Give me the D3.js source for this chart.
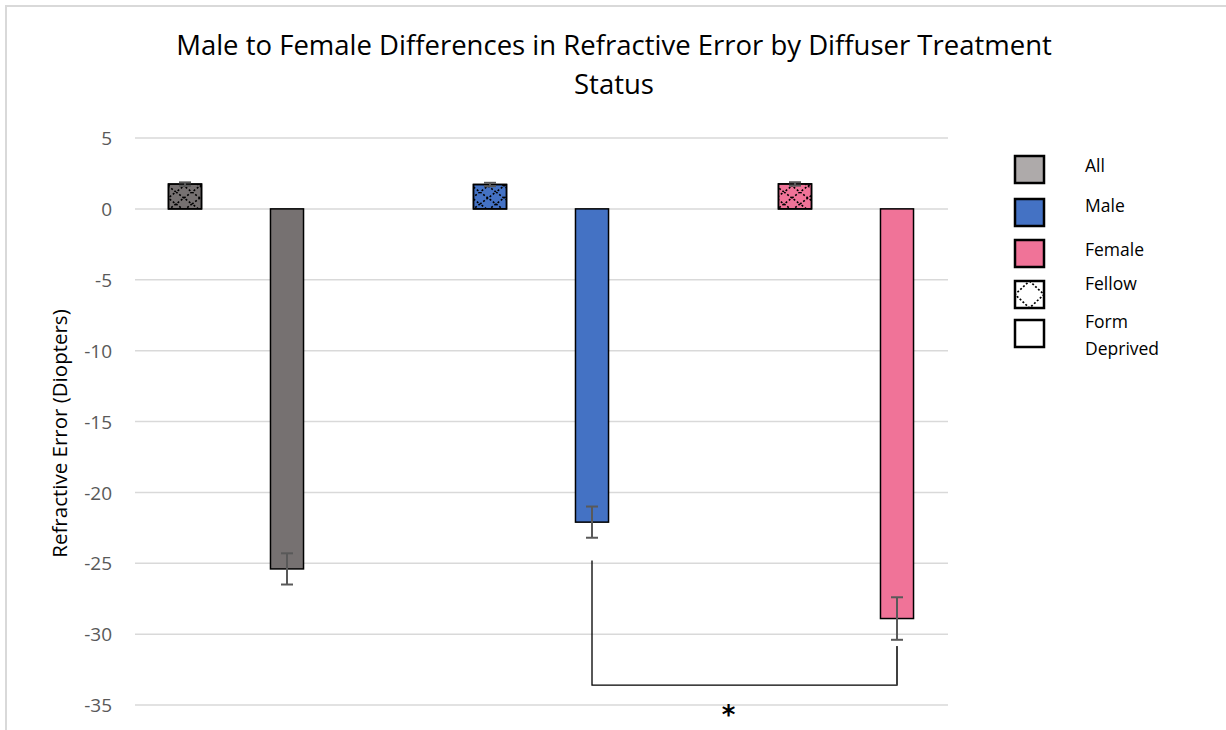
<!DOCTYPE html>
<html><head><meta charset="utf-8">
<script src="https://cdn.jsdelivr.net/npm/d3@7"></script>
<style>body{margin:0;background:#fff}svg{display:block}</style>
</head><body>
<svg id="c" width="1226" height="730"></svg>
<script>
const groups = ["All", "Male", "Female"];
const treatments = ["Fellow", "Form Deprived"];
const fellowMeans = [1.75, 1.72, 1.76];
const fellowErr = [0.12, 0.12, 0.12];
const fdMeans = [-25.4, -22.1, -28.9];
const fdErr = [1.1, 1.1, 1.5];
const yTicks = [5, 0, -5, -10, -15, -20, -25, -30, -35];
const legendLabels = [["All"], ["Male"], ["Female"], ["Fellow"], ["Form", "Deprived"]];
const sigBracket = { from: "Male", to: "Female", leftStart: -24.8, rightStart: -30.85, level: -33.6, label: "*" };

const colors = { All: "#767171", Male: "#4472c4", Female: "#f07398" };
const legendColors = ["#aeaaaa", "#4472c4", "#f07398", "url(#legPat)", "#ffffff"];
const font = "'Open Sans', sans-serif";

const svg = d3.select("#c");
const defs = svg.append("defs");
const pat = defs.append("pattern").attr("id", "diam").attr("patternUnits", "userSpaceOnUse")
  .attr("width", 32).attr("height", 24).attr("x", 0).attr("y", 0);
pat.append("path").attr("d", "M0,0 L32,24 M32,0 L0,24 M16,0 L32,12 L16,24 L0,12 Z")
  .attr("fill", "none").attr("stroke", "#000").attr("stroke-width", 1.6).attr("stroke-dasharray", "2,2");
const legPat = defs.append("pattern").attr("id", "legPat").attr("patternUnits", "objectBoundingBox")
  .attr("patternContentUnits", "objectBoundingBox").attr("width", 1).attr("height", 1);
legPat.append("rect").attr("width", 1).attr("height", 1).attr("fill", "#fff");
legPat.append("path").attr("d", "M0.5,0 L1,0.5 L0.5,1 L0,0.5 Z").attr("fill", "none")
  .attr("stroke", "#000").attr("stroke-width", 0.06).attr("stroke-dasharray", "0.07,0.07");

svg.append("path").attr("d", "M6,730 L6,6 L1226,6").attr("fill", "none").attr("stroke", "#d9d9d9").attr("stroke-width", 2);

const y = d3.scaleLinear().domain([-35, 5]).range([705, 138]);
const x = d3.scaleBand().domain(groups).range([83.5, 998.5]).padding(0);
const xi = d3.scaleBand().domain(treatments).range([0, x.bandwidth()]).paddingInner(0.676).paddingOuter(0.833);

svg.append("g").selectAll("line").data(yTicks).join("line")
  .attr("x1", 135).attr("x2", 948).attr("y1", d => y(d)).attr("y2", d => y(d))
  .attr("stroke", "#d9d9d9").attr("stroke-width", 1.5);

const yAxis = d3.axisLeft(y).tickValues(yTicks).tickSize(0).tickPadding(0).tickFormat(d => String(d));
const ga = svg.append("g").attr("transform", "translate(112,0)").call(yAxis);
ga.select(".domain").remove();
ga.selectAll("text").attr("font-family", font).attr("font-size", 19).attr("fill", "#595959").attr("dy", "0.35em");

svg.append("text").attr("transform", `translate(67,${(y(5)+y(-35))/2 + 12}) rotate(-90)`)
  .attr("text-anchor", "middle").attr("font-family", font).attr("font-size", 20.5).attr("fill", "#000")
  .text("Refractive Error (Diopters)");

const title = svg.append("text").attr("text-anchor", "middle").attr("font-family", font).attr("font-size", 27.5).attr("fill", "#000");
title.append("tspan").attr("x", 614).attr("y", 55).text("Male to Female Differences in Refractive Error by Diffuser Treatment");
title.append("tspan").attr("x", 614).attr("y", 94).text("Status");

const rows = [];
groups.forEach((g, i) => {
  rows.push({ g, t: "Fellow", v: fellowMeans[i], e: fellowErr[i] });
  rows.push({ g, t: "Form Deprived", v: fdMeans[i], e: fdErr[i] });
});
const bx = d => x(d.g) + xi(d.t);
const bars = svg.append("g");
bars.selectAll("rect.base").data(rows).join("rect")
  .attr("x", bx).attr("width", xi.bandwidth())
  .attr("y", d => y(Math.max(0, d.v))).attr("height", d => Math.abs(y(d.v) - y(0)))
  .attr("fill", d => colors[d.g]).attr("stroke", "#000").attr("stroke-width", 1.5);
bars.selectAll("rect.pat").data(rows.filter(d => d.t === "Fellow")).join("rect")
  .attr("x", bx).attr("width", xi.bandwidth())
  .attr("y", d => y(Math.max(0, d.v))).attr("height", d => Math.abs(y(d.v) - y(0)))
  .attr("fill", "url(#diam)").attr("stroke", "#000").attr("stroke-width", 1.5);

const eb = svg.append("g").attr("stroke", "#595959").attr("stroke-width", 2);
rows.forEach(d => {
  const cx = bx(d) + xi.bandwidth() / 2;
  eb.append("line").attr("x1", cx).attr("x2", cx).attr("y1", y(d.v + d.e)).attr("y2", y(d.v - d.e));
  [d.v + d.e, d.v - d.e].forEach(v => eb.append("line").attr("x1", cx - 6).attr("x2", cx + 6).attr("y1", y(v)).attr("y2", y(v)));
});

const lx = x(sigBracket.from) + xi("Form Deprived") + xi.bandwidth() / 2;
const rx = x(sigBracket.to) + xi("Form Deprived") + xi.bandwidth() / 2;
svg.append("path")
  .attr("d", `M${lx},${y(sigBracket.leftStart)} L${lx},${y(sigBracket.level)} L${rx},${y(sigBracket.level)} L${rx},${y(sigBracket.rightStart)}`)
  .attr("fill", "none").attr("stroke", "#000").attr("stroke-width", 1.3);
svg.append("path")
  .attr("d", `M${rx},${y(sigBracket.rightStart)} L${rx},${y(sigBracket.level)}`)
  .attr("stroke", "#404040").attr("stroke-width", 2);
svg.append("text").attr("x", (lx + rx) / 2 - 16).attr("y", 724).attr("text-anchor", "middle")
  .attr("font-family", "'DejaVu Sans', sans-serif").attr("font-size", 26).attr("font-weight", "bold").attr("fill", "#000").text(sigBracket.label);

const lg = svg.append("g");
const swY = [156, 199, 240, 281, 320];
const txY = [[172], [212], [256], [290], [328], [355]];
legendLabels.forEach((lab, i) => {
  lg.append("rect").attr("x", 1015).attr("y", swY[i]).attr("width", 29).attr("height", 27)
    .attr("fill", legendColors[i]).attr("stroke", "#000").attr("stroke-width", 2.5);
  lab.forEach((t, j) => lg.append("text").attr("x", 1085).attr("y", i === 4 ? [328, 355][j] : txY[i][0])
    .attr("font-family", font).attr("font-size", 17.5).attr("fill", "#000").text(t));
});
</script>
</body></html>
